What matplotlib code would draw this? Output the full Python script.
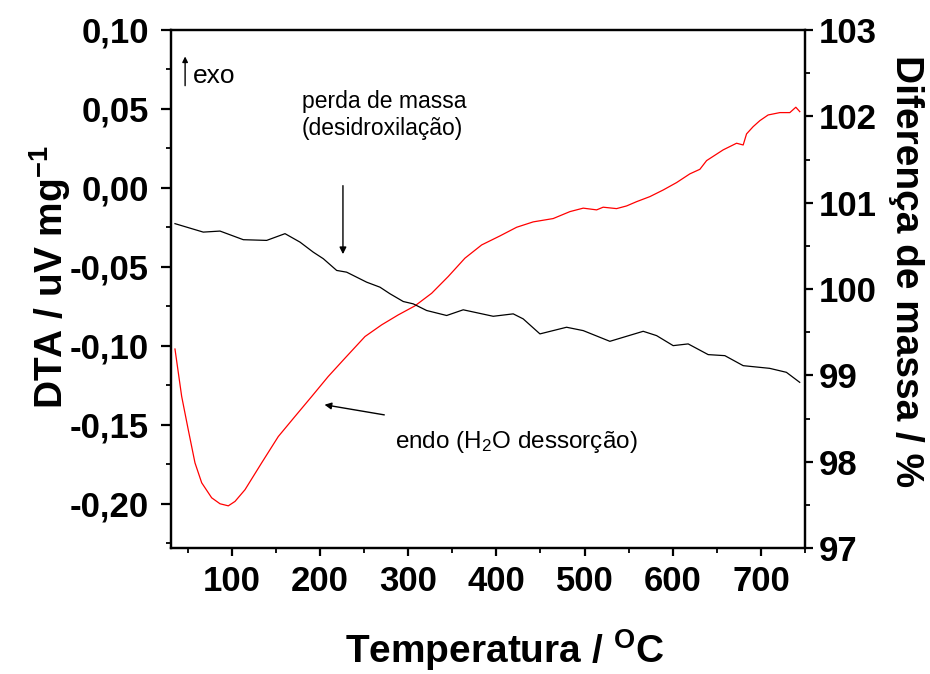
import numpy as np
import matplotlib
matplotlib.use("Agg")
import matplotlib.pyplot as plt
from matplotlib.ticker import MultipleLocator, FuncFormatter

# Fonts: Arial-like everywhere, mathtext too
plt.rcParams['font.family'] = ['Liberation Sans', 'DejaVu Sans']
plt.rcParams['mathtext.fontset'] = 'custom'
plt.rcParams['mathtext.rm'] = 'Liberation Sans'
plt.rcParams['mathtext.bf'] = 'Liberation Sans:bold'
plt.rcParams['mathtext.it'] = 'Liberation Sans:italic'

# DTA curve (left axis)
dta_temp = [35.5, 43.1, 50.6, 58.2, 65.8, 77.1, 86.6, 96.0, 103.6, 114.9,
            133.8, 152.7, 171.6, 190.5, 209.3, 228.3, 251.0, 269.9, 288.7, 307.6,
            326.6, 345.4, 364.3, 383.3, 404.0, 423.0, 441.8, 464.4, 483.4, 498.5,
            513.7, 521.1, 536.3, 547.7, 559.0, 574.1, 589.2, 604.4, 619.4, 630.8,
            638.4, 657.2, 672.4, 679.9, 683.7, 691.2, 698.8, 708.2, 721.5, 732.8,
            739.6, 744.1]
dta_val = [-0.102, -0.132, -0.1532, -0.1741, -0.1867, -0.1962, -0.2000, -0.2013, -0.1985, -0.1911,
           -0.1741, -0.1574, -0.1447, -0.1321, -0.1194, -0.1078, -0.0941, -0.0867, -0.0804, -0.0747,
           -0.0667, -0.0561, -0.0445, -0.0361, -0.0304, -0.0249, -0.0215, -0.0194, -0.0150, -0.0128,
           -0.0139, -0.0122, -0.0131, -0.0114, -0.0087, -0.0055, -0.0013, 0.0034, 0.0089, 0.0118,
           0.0173, 0.0241, 0.0283, 0.0272, 0.0342, 0.0388, 0.0426, 0.0462, 0.0477, 0.0477,
           0.0511, 0.0483]

# Mass difference curve (right axis)
mass_temp = [35.5, 67.6, 86.6, 113.0, 139.5, 160.3, 177.3, 192.3, 203.7, 218.9,
             230.2, 252.9, 268.0, 279.3, 294.4, 305.7, 320.9, 343.6, 362.4, 396.4,
             419.1, 430.4, 449.4, 479.6, 498.5, 528.7, 566.5, 581.7, 600.5, 617.5,
             640.2, 659.1, 679.9, 709.9, 728.9, 744.0]
mass_val = [100.757, 100.659, 100.671, 100.571, 100.563, 100.641, 100.543, 100.427, 100.351, 100.215,
            100.195, 100.079, 100.021, 99.945, 99.855, 99.828, 99.751, 99.693, 99.759, 99.684,
            99.712, 99.654, 99.480, 99.557, 99.518, 99.394, 99.510, 99.460, 99.344, 99.364,
            99.240, 99.228, 99.112, 99.081, 99.035, 98.919]

fig = plt.figure(figsize=(9.3, 6.74), dpi=100)
ax = fig.add_axes([171 / 930, 1 - 548 / 674, (805 - 171) / 930, (548 - 30) / 674])
ax2 = ax.twinx()

ax.plot(dta_temp, dta_val, color='red', lw=0.9)
ax2.plot(mass_temp, mass_val, color='black', lw=0.9)

ax.set_xlim(31, 750)
ax.set_ylim(-0.228, 0.10)
ax2.set_ylim(97, 103)

comma = FuncFormatter(lambda v, p: f"{v:.2f}".replace('.', ','))
ax.xaxis.set_major_locator(MultipleLocator(100))
ax.xaxis.set_minor_locator(MultipleLocator(50))
ax.yaxis.set_major_locator(MultipleLocator(0.05))
ax.yaxis.set_minor_locator(MultipleLocator(0.025))
ax.yaxis.set_major_formatter(comma)
ax2.yaxis.set_major_locator(MultipleLocator(1))
ax2.yaxis.set_minor_locator(MultipleLocator(0.5))

for a in (ax, ax2):
    for s in a.spines.values():
        s.set_linewidth(1.6)
    a.tick_params(which='major', direction='out', length=6, width=1.6, labelsize=25, pad=4)
    a.tick_params(which='minor', direction='out', length=3.5, width=1.3)
ax.tick_params(top=False, right=False, which='both')
ax.tick_params(axis='y', which='major', length=7, pad=9)
ax.tick_params(axis='x', which='major', pad=6)
for lbl in ax.get_xticklabels() + ax.get_yticklabels() + ax2.get_yticklabels():
    lbl.set_fontweight('bold')

# axis labels, placed where they sit in the picture
ax.set_xlabel(r'Temperatura / $\mathbf{^{O}}$C', fontsize=28, fontweight='bold')
ax.xaxis.label.set_va('baseline')
ax.xaxis.set_label_coords(0.526, -0.222)

ax.set_ylabel(r'DTA / uV mg$\mathbf{^{-1}}$', fontsize=28, fontweight='bold')
ax.yaxis.label.set_va('baseline')
ax.yaxis.set_label_coords(-0.170, 0.523)

ax2.set_ylabel('Diferença de massa / %', fontsize=28, fontweight='bold', rotation=270)
ax2.yaxis.label.set_rotation_mode('anchor')
ax2.yaxis.label.set_va('baseline')
ax2.yaxis.set_label_coords(1.1435, 0.535)

# annotations
ax.annotate('', xy=(47, 0.085), xytext=(47, 0.063),
            arrowprops=dict(arrowstyle='-|>', color='black', lw=1.0, mutation_scale=8))
ax.text(56, 0.0665, 'exo', fontsize=19, va='baseline', ha='left')

ax.text(179.5, 0.0335, 'perda de massa\n(desidroxilação)', fontsize=16.5, ha='left',
        va='baseline', linespacing=1.2)
ax.annotate('', xy=(226, -0.0437), xytext=(226, 0.0032),
            arrowprops=dict(arrowstyle='-|>', color='black', lw=1.0, mutation_scale=10))

ax.annotate('', xy=(202, -0.137), xytext=(276, -0.144),
            arrowprops=dict(arrowstyle='-|>', color='black', lw=1.0, mutation_scale=10))
ax.text(285, -0.1646, r'endo (H$_2$O dessorção)', fontsize=17.5, ha='left', va='baseline')

fig.savefig('out.png', dpi=100)
